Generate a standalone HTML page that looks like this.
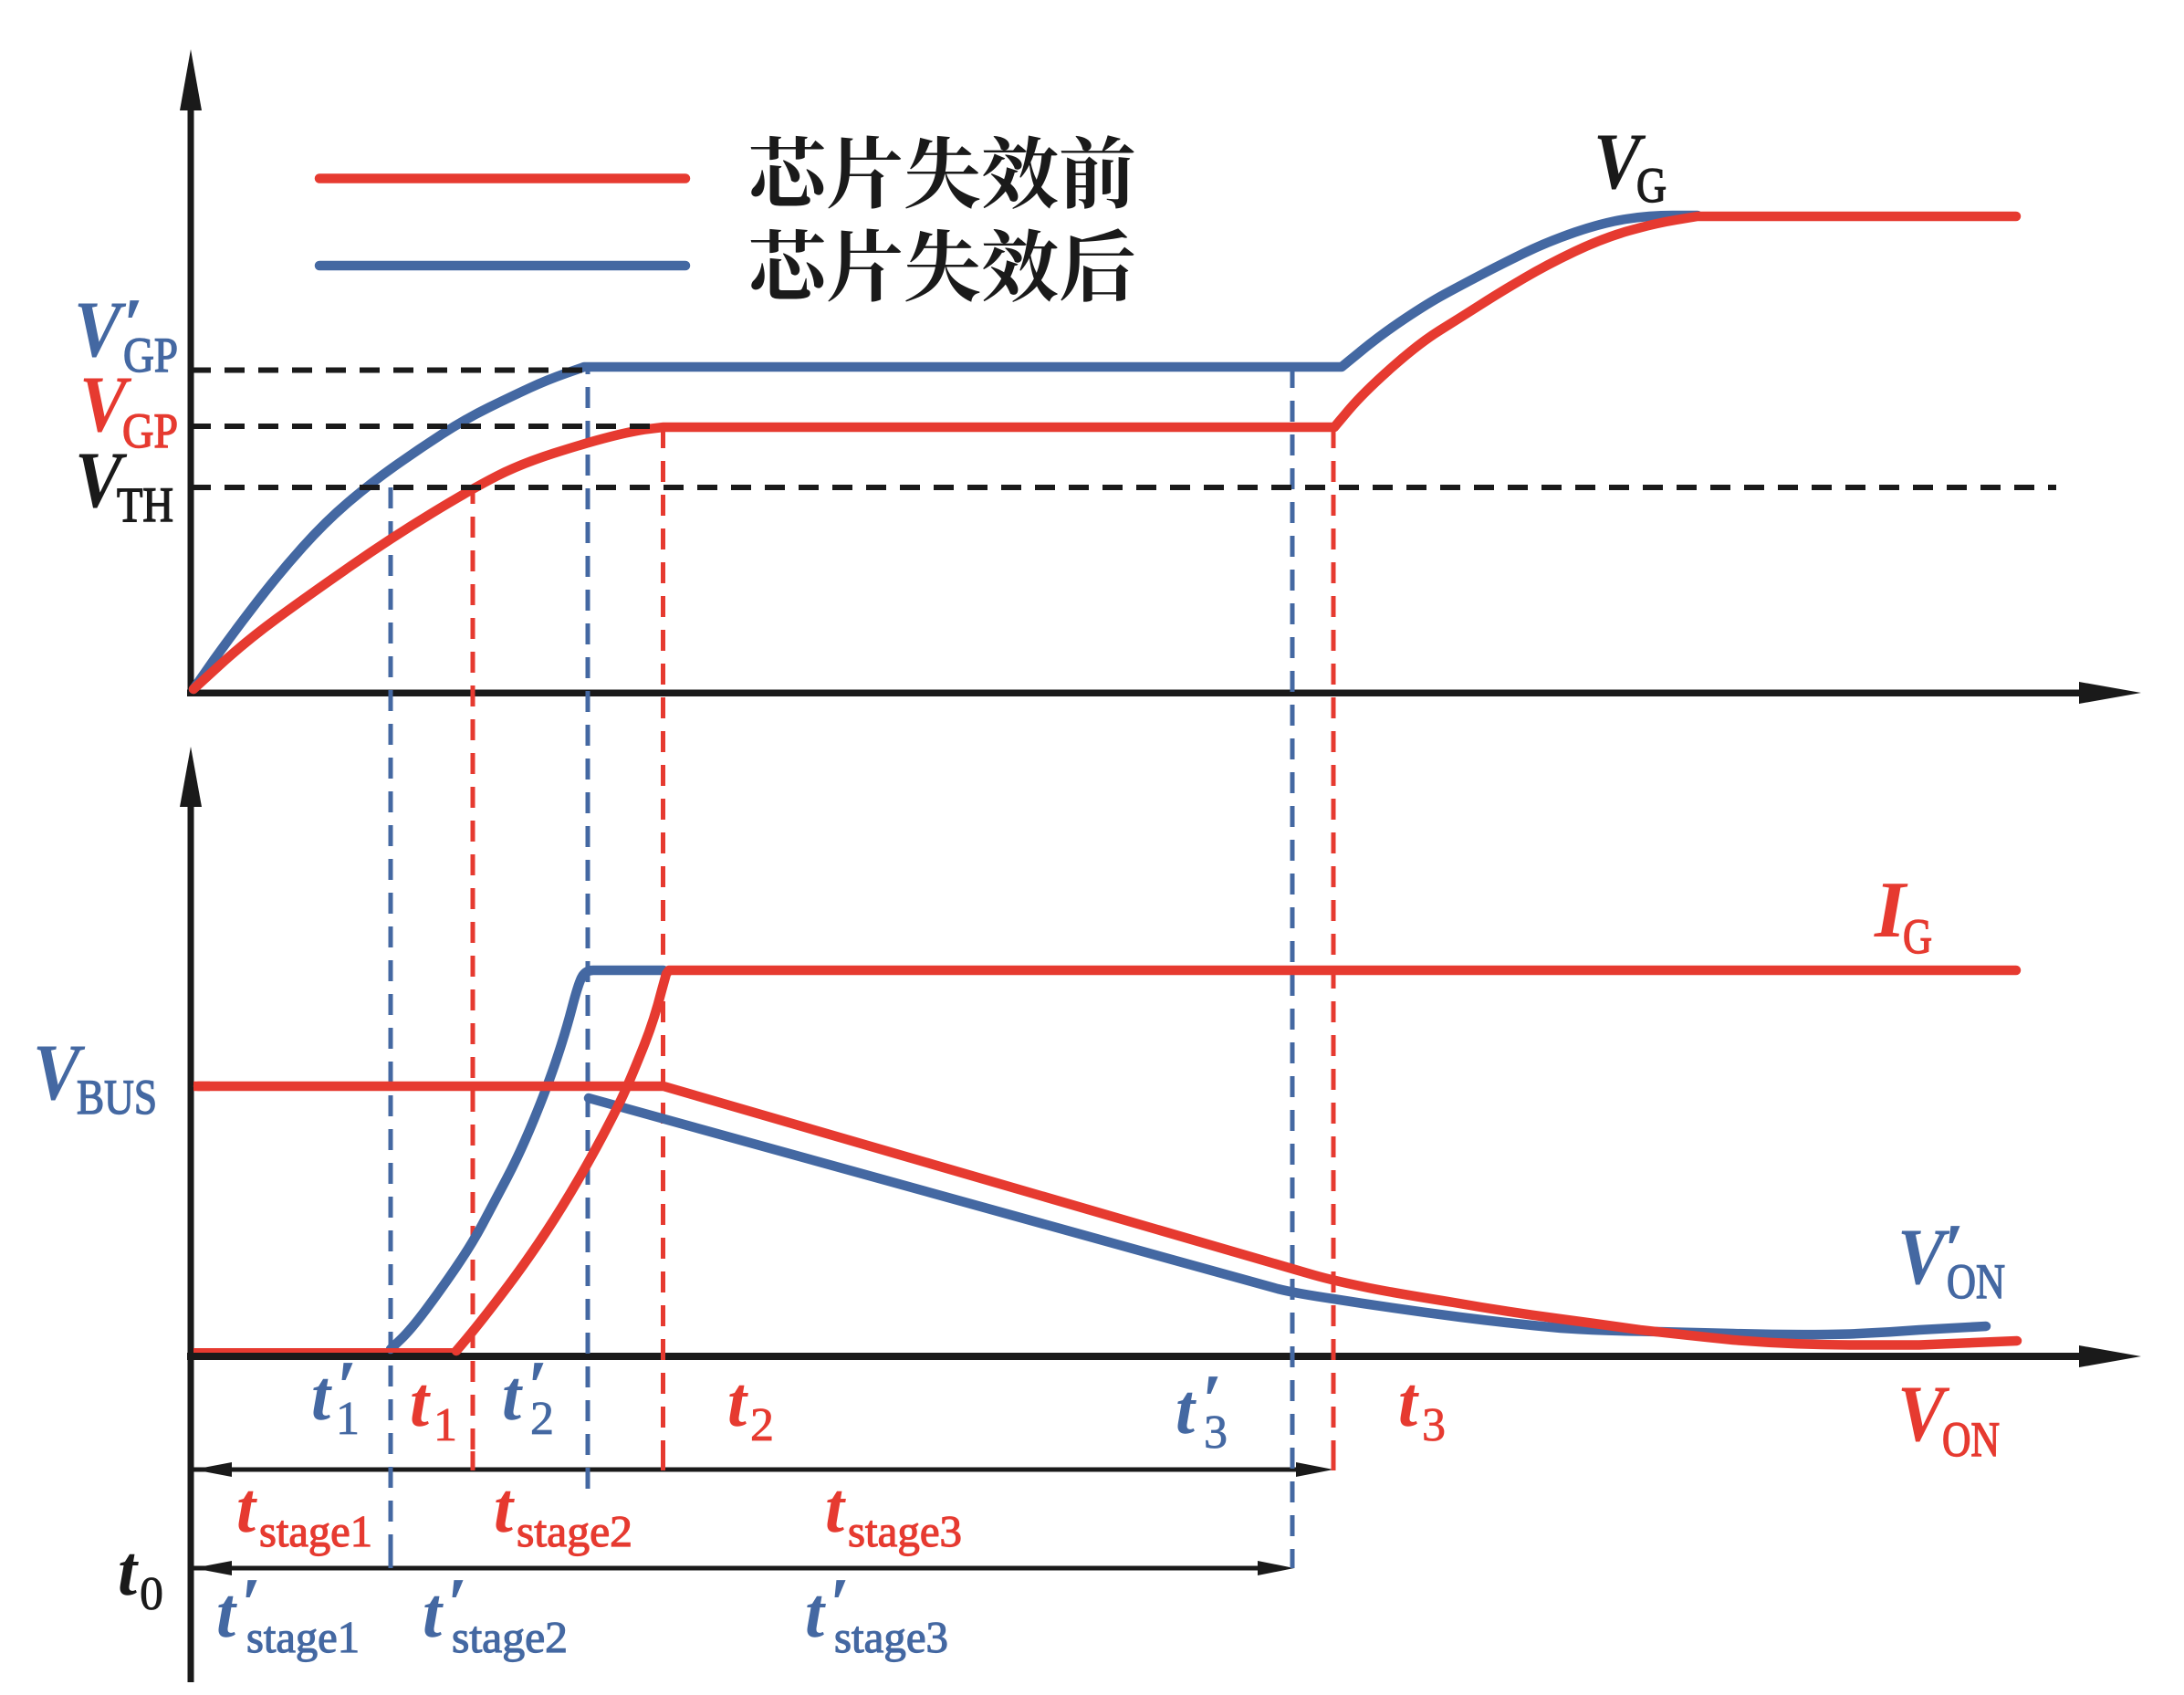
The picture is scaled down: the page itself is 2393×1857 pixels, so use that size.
<!DOCTYPE html>
<html><head><meta charset="utf-8"><style>
html,body{margin:0;padding:0;background:#fff}
svg{display:block}
text{font-family:"Liberation Serif","Noto Serif CJK SC",serif}
.v{font-weight:700;font-style:italic;font-size:88px}
.p{font-weight:700;font-style:italic;font-size:80px}
.s{font-weight:400;font-size:54px;stroke-width:1.5px}
.t{font-weight:700;font-style:italic;font-size:78px}
.n{font-weight:400;font-size:52px;stroke-width:.8px}
.st{font-weight:400;font-size:49px;stroke-width:1.2px}
.cjk{font-family:"Noto Serif CJK SC",serif;font-weight:700;font-size:85px;fill:#1a1a1a}
.r{fill:#e63a30;stroke:#e63a30}.b{fill:#4468a2;stroke:#4468a2}.k{fill:#1a1a1a;stroke:#1a1a1a}
.v.r,.v.b,.v.k,.t.r,.t.b,.t.k,.p.r,.p.b,.p.k{stroke:none}
</style></head><body>
<svg xmlns="http://www.w3.org/2000/svg" width="2393" height="1857" viewBox="0 0 2393 1857">
<rect width="2393" height="1857" fill="#fff"/>
<g fill="#1a1a1a">
<rect x="205.500" y="110" width="7" height="652"/>
<polygon points="209,54 221,121 197,121"/>
<rect x="205" y="755.500" width="2080" height="7.500"/>
<polygon points="2346,759 2278,747 2278,771"/>
<rect x="205.500" y="870" width="7" height="973"/>
<polygon points="209,818 221,884 197,884"/>
<rect x="205" y="1482" width="2080" height="8"/>
<polygon points="2346,1486 2278,1474 2278,1498"/>
<rect x="212" y="1607.500" width="1210" height="5"/>
<rect x="212" y="1715.500" width="1170" height="5"/>
<polygon points="212,1610 254,1602 254,1618"/><polygon points="1461,1610 1420,1602 1420,1618"/>
<polygon points="212,1718 254,1710 254,1726"/><polygon points="1418,1718 1378,1710 1378,1726"/>
</g>
<g fill="none" stroke-width="5" stroke-dasharray="23 14">
<line x1="428" y1="534" x2="428" y2="1700" stroke="#4468a2"/>
<line x1="518" y1="534" x2="518" y2="1590" stroke="#e63a30" stroke-dashoffset="5"/>
<line x1="644" y1="402" x2="644" y2="1608" stroke="#4468a2" stroke-dashoffset="15"/>
<line x1="726.500" y1="468" x2="726.500" y2="1590" stroke="#e63a30"/>
<line x1="1416" y1="402" x2="1416" y2="1700" stroke="#4468a2"/>
<line x1="1461" y1="468" x2="1461" y2="1580" stroke="#e63a30"/>
</g>
<g fill="none" stroke-width="5">
<line x1="428" y1="1697" x2="428" y2="1718" stroke="#4468a2"/>
<line x1="518" y1="1590" x2="518" y2="1611" stroke="#e63a30"/>
<line x1="644" y1="1608" x2="644" y2="1631" stroke="#4468a2"/>
<line x1="726.500" y1="1590" x2="726.500" y2="1611" stroke="#e63a30"/>
<line x1="1416" y1="1697" x2="1416" y2="1718" stroke="#4468a2"/>
<line x1="1461" y1="1580" x2="1461" y2="1611" stroke="#e63a30"/>
</g>
<g fill="none" stroke-width="10.500" stroke-linejoin="round" stroke-linecap="round">
<line x1="350" y1="195.500" x2="751" y2="195.500" stroke="#e63a30"/>
<line x1="350" y1="291" x2="751" y2="291" stroke="#4468a2"/>
<path stroke="#4468a2" d="M212,755 L235,722 Q258,690 282,659 Q306,628 331.500,599.500 Q357,571 382.500,549.500 Q408,528 433.500,510 Q459,492 484.500,475.500 Q510,459 535.500,446.500 Q561,434 580.500,425 Q600,416 620,409 L640,402 H1470 L1492,384 Q1514,366 1539.500,349 Q1565,332 1582.500,322.500 Q1600,313 1622,301.500 Q1644,290 1669.500,277.500 Q1695,265 1725.500,254.500 Q1756,244 1781.500,240 Q1807,236 1833,236 L1860,236"/>
<path stroke="#e63a30" d="M212,755 L241,728.500 Q270,702 303.500,677.500 Q337,653 383,621 Q429,589 473.500,562 Q518,535 544.500,521.500 Q571,508 607,496.500 Q643,485 668.500,478.500 Q694,472 710.500,470 L727,468 H1462 L1478,449 Q1494,430 1524.500,403 Q1555,376 1577.500,362 Q1600,348 1622,334 Q1644,320 1669.500,305 Q1695,290 1725.500,275.500 Q1756,261 1784,253 Q1812,245 1836,241 L1860,237 H2209"/>
<path stroke="#4468a2" d="M428,1478 L439,1467.500 Q450,1457 466.500,1435 Q483,1413 500,1388 Q517,1363 528.500,1341.500 Q540,1320 555,1291.500 Q570,1263 585,1226.500 Q600,1190 610,1160 Q620,1130 626.500,1105 Q633,1080 637,1071.500 Q641,1063 650,1063 H727"/>
<path stroke="#4468a2" d="M645,1203 L1400,1412 Q1420,1417 1461,1423 Q1530,1434 1600,1443 Q1655,1450 1710,1455 Q1755,1458 1797,1458.500 L1899,1461 Q1970,1463 2027,1461.500 Q2065,1460 2103,1457 L2176,1453"/>
<path stroke="#e63a30" d="M217,1190 H727 L1440,1397 Q1461,1403 1500,1411 Q1530,1417 1593,1427 Q1650,1437 1710,1445 Q1755,1451 1797,1457 Q1850,1463 1899,1468 Q1960,1473 2027,1473.500 L2103,1473.500 L2210,1469"/>
<path stroke="#e63a30" d="M500,1480 L508.500,1470 Q517,1460 530,1443.500 Q543,1427 558,1407 Q573,1387 590,1362 Q607,1337 625,1307 Q643,1277 660,1245 Q677,1213 685,1195 Q693,1177 705,1147 Q717,1117 725,1085 L730,1067 L733,1063 H2209"/>
<line x1="212" y1="1479.500" x2="500" y2="1479.500" stroke="#e63a30" stroke-width="5" stroke-linecap="butt"/>
<line x1="212" y1="1190" x2="230" y2="1190" stroke="#e63a30" stroke-linecap="butt"/>
</g>
<g fill="none" stroke="#1a1a1a" stroke-width="6" stroke-dasharray="22 15">
<line x1="209" y1="405.500" x2="640" y2="405.500"/>
<line x1="209" y1="467" x2="727" y2="467"/>
<line x1="209" y1="534" x2="2253" y2="534"/>
</g>
<text class="cjk" x="820" y="221">芯片失效前</text>
<text class="cjk" x="820" y="323">芯片失效后</text>

<text class="v b" x="81" y="390" textLength="52" lengthAdjust="spacingAndGlyphs">V</text>
<text class="p b" x="134" y="382">′</text>
<text class="s b" x="135" y="407" textLength="60" lengthAdjust="spacingAndGlyphs">GP</text>
<text class="v r" x="87" y="472" textLength="52" lengthAdjust="spacingAndGlyphs">V</text>
<text class="s r" x="134" y="490" textLength="61" lengthAdjust="spacingAndGlyphs">GP</text>
<text class="v k" x="82" y="555" textLength="52" lengthAdjust="spacingAndGlyphs">V</text>
<text class="s k" x="128" y="571" textLength="62" lengthAdjust="spacingAndGlyphs">TH</text>
<text class="v k" x="1746" y="206" textLength="52" lengthAdjust="spacingAndGlyphs">V</text>
<text class="s k" x="1793" y="221" textLength="33" lengthAdjust="spacingAndGlyphs">G</text>
<text class="v b" x="36" y="1204" textLength="52" lengthAdjust="spacingAndGlyphs">V</text>
<text class="s b" x="84" y="1220" textLength="88" lengthAdjust="spacingAndGlyphs">BUS</text>
<text class="v r" x="2054" y="1026" textLength="34" lengthAdjust="spacingAndGlyphs">I</text>
<text class="s r" x="2085" y="1044" textLength="32" lengthAdjust="spacingAndGlyphs">G</text>
<text class="v b" x="2079" y="1406" textLength="52" lengthAdjust="spacingAndGlyphs">V</text>
<text class="p b" x="2129" y="1396">′</text>
<text class="s b" x="2133" y="1422" textLength="64" lengthAdjust="spacingAndGlyphs">ON</text>
<text class="v r" x="2079" y="1578" textLength="52" lengthAdjust="spacingAndGlyphs">V</text>
<text class="s r" x="2128" y="1595" textLength="63" lengthAdjust="spacingAndGlyphs">ON</text>

<text class="t b" x="341" y="1555" textLength="21" lengthAdjust="spacingAndGlyphs">t</text><text class="p b" x="368" y="1546">′</text><text class="n b" x="368" y="1571">1</text>
<text class="t r" x="449" y="1562" textLength="21" lengthAdjust="spacingAndGlyphs">t</text><text class="n r" x="475" y="1578">1</text>
<text class="t b" x="550" y="1555" textLength="21" lengthAdjust="spacingAndGlyphs">t</text><text class="p b" x="577" y="1546">′</text><text class="n b" x="581" y="1571">2</text>
<text class="t r" x="797" y="1562" textLength="21" lengthAdjust="spacingAndGlyphs">t</text><text class="n r" x="822" y="1578">2</text>
<text class="t b" x="1288" y="1570" textLength="21" lengthAdjust="spacingAndGlyphs">t</text><text class="p b" x="1316" y="1561">′</text><text class="n b" x="1319" y="1586">3</text>
<text class="t r" x="1532" y="1562" textLength="21" lengthAdjust="spacingAndGlyphs">t</text><text class="n r" x="1558" y="1578">3</text>
<text class="t k" x="129" y="1747" textLength="21" lengthAdjust="spacingAndGlyphs">t</text><text class="n k" x="153" y="1763">0</text>

<text class="t r" x="259" y="1678" textLength="21" lengthAdjust="spacingAndGlyphs">t</text><text class="st r" x="284" y="1694" textLength="124" lengthAdjust="spacingAndGlyphs">stage1</text>
<text class="t r" x="541" y="1678" textLength="21" lengthAdjust="spacingAndGlyphs">t</text><text class="st r" x="566" y="1694" textLength="127" lengthAdjust="spacingAndGlyphs">stage2</text>
<text class="t r" x="904" y="1678" textLength="21" lengthAdjust="spacingAndGlyphs">t</text><text class="st r" x="929" y="1694" textLength="125" lengthAdjust="spacingAndGlyphs">stage3</text>
<text class="t b" x="237" y="1793" textLength="21" lengthAdjust="spacingAndGlyphs">t</text><text class="p b" x="263" y="1784">′</text><text class="st b" x="270" y="1810" textLength="124" lengthAdjust="spacingAndGlyphs">stage1</text>
<text class="t b" x="463" y="1793" textLength="21" lengthAdjust="spacingAndGlyphs">t</text><text class="p b" x="489" y="1784">′</text><text class="st b" x="495" y="1810" textLength="127" lengthAdjust="spacingAndGlyphs">stage2</text>
<text class="t b" x="882" y="1793" textLength="21" lengthAdjust="spacingAndGlyphs">t</text><text class="p b" x="908" y="1784">′</text><text class="st b" x="914" y="1810" textLength="125" lengthAdjust="spacingAndGlyphs">stage3</text>
</svg>
</body></html>
